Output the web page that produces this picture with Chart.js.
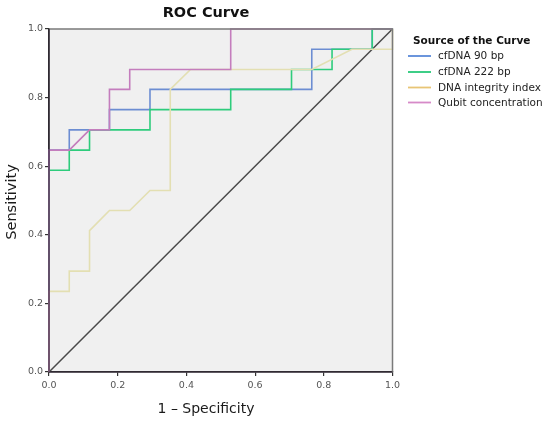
<!DOCTYPE html>
<html>
<head>
<meta charset="utf-8">
<script src="https://cdn.jsdelivr.net/npm/chart.js@4.4.1/dist/chart.umd.min.js"></script>
<style>
html,body{margin:0;padding:0;background:#fff;}
canvas{display:block;}
</style>
</head>
<body>
<canvas id="c" width="550" height="424"></canvas>
<script>
// ---- data ----
const seriesNames = ["cfDNA 90 bp", "cfDNA 222 bp", "DNA integrity index", "Qubit concentration"];

const fpr90 = [0, 0, 0.059, 0.059, 0.176, 0.176, 0.294, 0.294, 0.765, 0.765, 0.941, 0.941, 1];
const tpr90 = [0, 0.647, 0.647, 0.706, 0.706, 0.765, 0.765, 0.824, 0.824, 0.941, 0.941, 1, 1];

const fpr222 = [0, 0, 0.059, 0.059, 0.118, 0.118, 0.294, 0.294, 0.529, 0.529, 0.706, 0.706, 0.824, 0.824, 0.941, 0.941, 1];
const tpr222 = [0, 0.588, 0.588, 0.647, 0.647, 0.706, 0.706, 0.765, 0.765, 0.824, 0.824, 0.882, 0.882, 0.941, 0.941, 1, 1];

const fprDII = [0, 0, 0.059, 0.059, 0.118, 0.118, 0.176, 0.235, 0.294, 0.353, 0.353, 0.412, 0.765, 0.882, 1, 1];
const tprDII = [0, 0.235, 0.235, 0.294, 0.294, 0.412, 0.471, 0.471, 0.529, 0.529, 0.824, 0.882, 0.882, 0.941, 0.941, 1];

const fprQubit = [0, 0, 0.059, 0.118, 0.176, 0.176, 0.235, 0.235, 0.529, 0.529, 1];
const tprQubit = [0, 0.647, 0.647, 0.706, 0.706, 0.824, 0.824, 0.882, 0.882, 1, 1];

const refX = [0, 1];
const refY = [0, 1];

const xTicks = [0.0, 0.2, 0.4, 0.6, 0.8, 1.0];
const yTicks = [0.0, 0.2, 0.4, 0.6, 0.8, 1.0];

const titleText = "ROC Curve";
const xTitle = "1 \u2013 Specificity";
const yTitle = "Sensitivity";
const legendTitle = "Source of the Curve";

// ---- styles ----
const lineColors = ["#6c8dd2", "#2ecc7c", "#e3dfb2", "#c47dbd"];
const legendColors = ["#5b8ad8", "#27c97a", "#e8c576", "#d68ac8"];
const FONT = "DejaVu Sans";

function pts(xs, ys) { return xs.map((x, i) => ({x: x, y: ys[i]})); }

const allX = [fpr90, fpr222, fprDII, fprQubit];
const allY = [tpr90, tpr222, tprDII, tprQubit];

const datasets = seriesNames.map((name, i) => ({
  label: name,
  data: pts(allX[i], allY[i]),
  borderColor: lineColors[i],
  backgroundColor: lineColors[i],
  borderWidth: 1.6,
  showLine: true,
  pointRadius: 0,
  tension: 0,
  clip: false,
  order: 3 - i
}));
datasets.push({
  label: "ref",
  data: pts(refX, refY),
  borderColor: "#4a4a4a",
  borderWidth: 1.5,
  showLine: true,
  pointRadius: 0,
  clip: false,
  order: 10
});

const decor = {
  id: "decor",
  beforeDraw(chart) {
    const {ctx, chartArea: a} = chart;
    ctx.save();
    ctx.fillStyle = "#f0f0f0";
    ctx.fillRect(a.left, a.top, a.right - a.left, a.bottom - a.top);
    ctx.restore();
  },
  afterDraw(chart) {
    const {ctx, chartArea: a} = chart;
    ctx.save();
    // top & right frame
    ctx.strokeStyle = "#7a7a7a";
    ctx.lineWidth = 1.5;
    ctx.beginPath();
    ctx.moveTo(a.left, a.top); ctx.lineTo(a.right, a.top); ctx.lineTo(a.right, a.bottom);
    ctx.stroke();
    // left/bottom axis lines over the curves (darkened overlap as in reference)
    ctx.strokeStyle = "rgba(45,35,50,0.7)";
    ctx.lineWidth = 1.6;
    ctx.beginPath();
    ctx.moveTo(a.left, a.top); ctx.lineTo(a.left, a.bottom); ctx.lineTo(a.right, a.bottom);
    ctx.stroke();
    // title
    ctx.fillStyle = "#111";
    ctx.font = "bold 14.5px '" + FONT + "'";
    ctx.textAlign = "center"; ctx.textBaseline = "middle";
    ctx.fillText(titleText, 206, 13);
    // axis titles
    ctx.fillStyle = "#1a1a1a";
    ctx.font = "14px '" + FONT + "'";
    ctx.fillText(xTitle, 206, 409);
    ctx.font = "14.5px '" + FONT + "'";
    ctx.translate(12.5, 202);
    ctx.rotate(-Math.PI / 2);
    ctx.fillText(yTitle, 0, 0);
    ctx.restore();
    // legend
    ctx.save();
    ctx.fillStyle = "#111";
    ctx.font = "bold 10.5px '" + FONT + "'";
    ctx.textAlign = "left"; ctx.textBaseline = "middle";
    ctx.fillText(legendTitle, 413, 41);
    ctx.font = "10.5px '" + FONT + "'";
    const ys = [56, 72, 87.5, 102.5];
    seriesNames.forEach((n, i) => {
      ctx.strokeStyle = legendColors[i];
      ctx.lineWidth = 1.8;
      ctx.beginPath(); ctx.moveTo(408, ys[i]); ctx.lineTo(431, ys[i]); ctx.stroke();
      ctx.fillStyle = "#222";
      ctx.fillText(n, 438, ys[i] + 0.5);
    });
    ctx.restore();
  }
};

new Chart(document.getElementById("c"), {
  type: "scatter",
  data: {datasets: datasets},
  options: {
    responsive: false,
    animation: false,
    devicePixelRatio: 1,
    layout: {padding: {top: 29, right: 157.5, left: 0, bottom: 0}},
    plugins: {legend: {display: false}, tooltip: {enabled: false}, title: {display: false}},
    scales: {
      x: {
        type: "linear", min: 0, max: 1,
        afterBuildTicks(s) { s.ticks = xTicks.map(v => ({value: v})); },
        afterFit(s) { s.height = 52; },
        ticks: {font: {family: FONT, size: 9.5}, color: "#555", padding: 4, maxRotation: 0,
                callback: v => Number(v).toFixed(1)},
        grid: {drawOnChartArea: false, drawTicks: true, tickLength: 4, color: "#333", lineWidth: 1.2},
        border: {display: true, color: "#333", width: 1.6}
      },
      y: {
        type: "linear", min: 0, max: 1,
        afterBuildTicks(s) { s.ticks = yTicks.map(v => ({value: v})); },
        afterFit(s) { s.width = 49; },
        ticks: {font: {family: FONT, size: 9.5}, color: "#555", padding: 2,
                callback: v => Number(v).toFixed(1)},
        grid: {drawOnChartArea: false, drawTicks: true, tickLength: 4, color: "#333", lineWidth: 1.2},
        border: {display: true, color: "#333", width: 1.6}
      }
    }
  },
  plugins: [decor]
});
</script>
</body>
</html>
